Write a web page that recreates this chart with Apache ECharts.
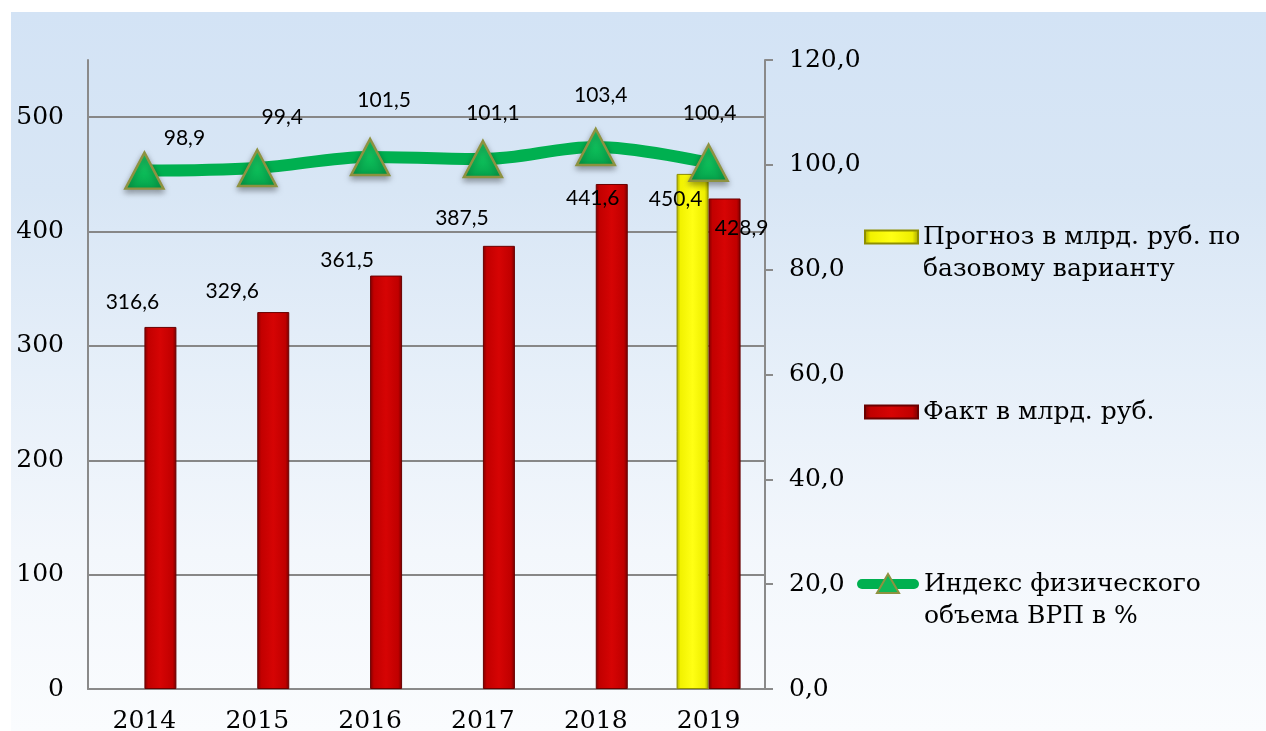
<!DOCTYPE html>
<html>
<head>
<meta charset="utf-8">
<script src="https://cdn.jsdelivr.net/npm/echarts@6/dist/echarts.min.js"></script>
<style>
html,body{margin:0;padding:0;background:#ffffff;}
#wrap{position:relative;width:1266px;height:731px;overflow:hidden;background:#ffffff;}
#panel{position:absolute;left:11px;top:12px;right:0;bottom:0;
  background:linear-gradient(to bottom,#d3e3f5 0%,#d8e6f5 25%,#e6eff9 50%,#f3f7fc 75%,#fafcfe 100%);}
#chart{position:absolute;left:0;top:0;width:1266px;height:731px;}
</style>
</head>
<body>
<div id="wrap"><div id="panel"></div><div id="chart"></div></div>
<script>
// ---- data ----
const categories = ['2014', '2015', '2016', '2017', '2018', '2019'];
const forecastValues = [null, null, null, null, null, 450.4];
const factValues = [316.6, 329.6, 361.5, 387.5, 441.6, 428.9];
const indexValues = [98.9, 99.4, 101.5, 101.1, 103.4, 100.4];
const seriesNames = ['Прогноз в млрд. руб. по\nбазовому варианту', 'Факт в млрд. руб.', 'Индекс физического\nобъема ВРП в %'];

// ---- label layout (pixel offsets of value labels, not data) ----
const forecastLabelOffsets = [[0,0],[0,0],[0,0],[0,0],[0,0],[-17,25]];
const factLabelOffsets = [[-28,-25],[-41,-21],[-39,-15],[-37,-28],[-19,14],[17,30]];
const indexLabelOffsets = [[40,-32],[25,-51],[14,-57],[10,-46],[5,-52],[1,-50]];

const fmt = v => Number(v).toFixed(1).replace('.', ',');
const serif = 'DejaVu Serif';
const labelFont = 'Lato';

const redGrad = new echarts.graphic.LinearGradient(0,0,1,0,[
  {offset:0,color:'#7e0000'},{offset:0.12,color:'#c20000'},{offset:0.5,color:'#d60404'},
  {offset:0.88,color:'#c00000'},{offset:1,color:'#760000'}]);
const yellowGrad = new echarts.graphic.LinearGradient(0,0,1,0,[
  {offset:0,color:'#a9a900'},{offset:0.12,color:'#f2f200'},{offset:0.5,color:'#ffff14'},
  {offset:0.88,color:'#eeee00'},{offset:1,color:'#a0a000'}]);
const greenGrad = new echarts.graphic.LinearGradient(0,0,0,1,[
  {offset:0,color:'#1fcf6a'},{offset:0.6,color:'#0cbb58'},{offset:1,color:'#05a04a'}]);

const lineIconSvg = '<svg xmlns="http://www.w3.org/2000/svg" width="62" height="24" viewBox="0 0 62 24">' +
  '<line x1="5" y1="12" x2="57" y2="12" stroke="#00b050" stroke-width="10" stroke-linecap="round"/>' +
  '<polygon points="31,2 42,21 20,21" fill="#10b858" stroke="#8d9240" stroke-width="2"/></svg>';
const lineIcon = 'image://data:image/svg+xml;charset=utf-8,' + encodeURIComponent(lineIconSvg);

const barLabel = {
  show: true, position: ['50%', 0], align: 'center', verticalAlign: 'middle',
  fontFamily: labelFont, fontSize: 21, color: '#000', formatter: p => fmt(p.value)
};
const legendText = {fontFamily:serif, fontSize:25, color:'#000', lineHeight:32};

const chart = echarts.init(document.getElementById('chart'), null, {renderer:'canvas'});
chart.setOption({
  backgroundColor: 'transparent',
  animation: false,
  grid: {left: 88, right: 501, top: 60, bottom: 42, containLabel: false, outerBoundsMode: 'none'},
  legend: [
    {data:[seriesNames[0]], orient:'vertical', left:864, top:189, padding:0,
     itemWidth:53, itemHeight:13, icon:'rect', formatter: n => '\n' + n,
     textStyle: legendText},
    {data:[seriesNames[1]], orient:'vertical', left:864, top:396, padding:0,
     itemWidth:53, itemHeight:13, icon:'rect',
     textStyle: legendText},
    {data:[seriesNames[2]], orient:'vertical', left:857, top:536, padding:0,
     itemWidth:62, itemHeight:24, icon: lineIcon, formatter: n => '\n' + n,
     textStyle: legendText}
  ],
  xAxis: {
    type: 'category', data: categories, boundaryGap: true,
    axisLine: {show:true, lineStyle:{color:'#8a8a8a', width:2}},
    axisTick: {show:false},
    axisLabel: {fontFamily: serif, fontSize: 25, color:'#000', margin: 20}
  },
  yAxis: [
    {type:'value', min:0, max:550, interval:100, position:'left',
     axisLine:{show:true, lineStyle:{color:'#8a8a8a', width:2}},
     axisTick:{show:false},
     axisLabel:{fontFamily: serif, fontSize: 25, color:'#000', margin: 24, showMaxLabel:false},
     splitLine:{show:true, lineStyle:{color:['#878787','#878787','#878787','#878787','#878787','#878787','rgba(0,0,0,0)'], width:2}}},
    {type:'value', min:0, max:120, interval:20, position:'right',
     axisLine:{show:true, lineStyle:{color:'#8a8a8a', width:2}},
     axisTick:{show:true, inside:false, length:8, lineStyle:{color:'#8a8a8a', width:2}},
     axisLabel:{fontFamily: serif, fontSize: 25, color:'#000', margin: 24, formatter: v => fmt(v)},
     splitLine:{show:false}}
  ],
  series: [
    {name: seriesNames[0], type:'bar', yAxisIndex:0, barWidth:32, barGap:'0%',
     itemStyle:{color: yellowGrad, borderColor:'#8f8f00', borderWidth:1},
     label: barLabel,
     data: forecastValues.map((v,i) => v == null ? '-' : {value:v, label:{offset: forecastLabelOffsets[i]}})},
    {name: seriesNames[1], type:'bar', yAxisIndex:0, barWidth:32, barGap:'0%',
     itemStyle:{color: redGrad, borderColor:'#6a0000', borderWidth:1},
     label: barLabel,
     data: factValues.map((v,i) => ({value:v, label:{offset: factLabelOffsets[i]}}))},
    {name: seriesNames[2], type:'line', yAxisIndex:1, smooth:0.35, z:5,
     symbol:'triangle', symbolSize:[38,36],
     lineStyle:{color:'#00b050', width:12},
     itemStyle:{color: greenGrad, borderColor:'#8d9240', borderWidth:2.5,
       shadowColor:'rgba(0,0,0,0.35)', shadowBlur:6, shadowOffsetY:3},
     label:{show:true, position:'inside', fontFamily: labelFont, fontSize:21, color:'#000',
       formatter: p => fmt(p.value)},
     data: indexValues.map((v,i) => ({value:v, label:{offset: indexLabelOffsets[i]}}))}
  ]
});
</script>
</body>
</html>
